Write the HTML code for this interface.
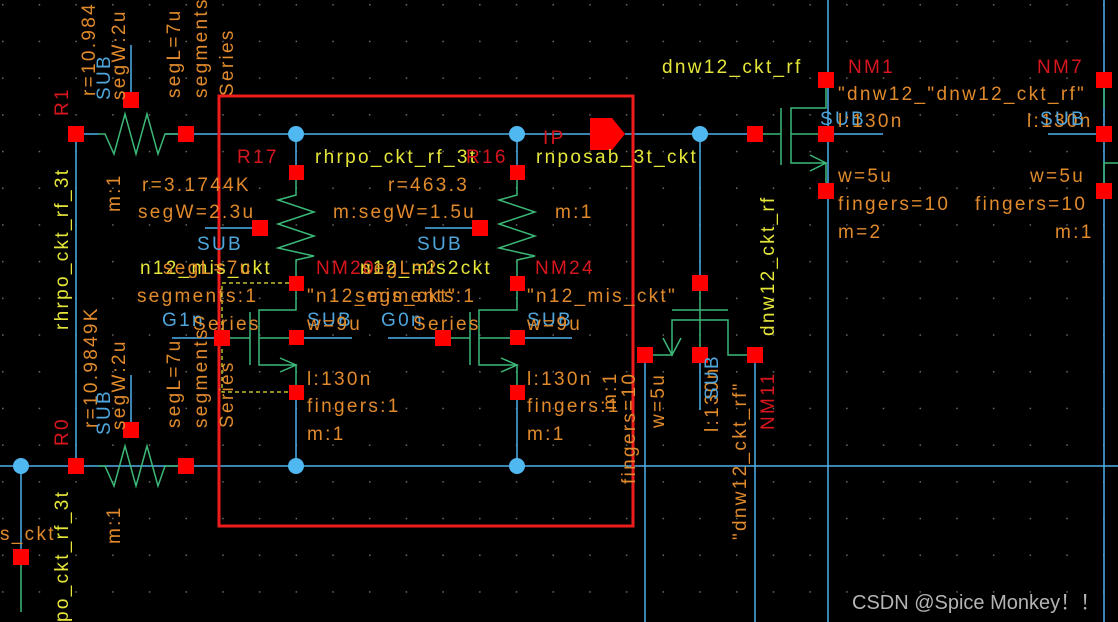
<!DOCTYPE html>
<html><head><meta charset="utf-8"><style>
html,body{margin:0;padding:0;background:#000;width:1118px;height:622px;overflow:hidden}
svg{display:block;overflow:hidden}
text{font-family:"Liberation Sans",sans-serif;font-size:19px;letter-spacing:2.3px}
.y{fill:#e6e63a}.o{fill:#e08a2c}.r{fill:#d8161e}.b{fill:#4fa6dd}
</style></head><body>
<svg width="1118" height="622" xmlns="http://www.w3.org/2000/svg">
<defs><pattern id="g" width="36.7" height="36.7" patternUnits="userSpaceOnUse" x="2" y="4"><rect width="1.5" height="1.5" fill="#6a6a6a"/></pattern></defs>
<rect width="1118" height="622" fill="#000"/>
<rect width="1118" height="622" fill="url(#g)"/>

<g stroke="#4fb0ec" stroke-width="1.5" fill="none">
<line x1="98" y1="134" x2="76" y2="134"/><line x1="165" y1="134" x2="590" y2="134"/>
<line x1="625" y1="134" x2="755" y2="134"/>
<line x1="0" y1="466" x2="1118" y2="466"/>
<line x1="76" y1="134" x2="76" y2="466"/>
<line x1="131" y1="100" x2="131" y2="45"/><line x1="131" y1="430" x2="131" y2="375"/>
<line x1="21" y1="466" x2="21" y2="555"/>
<line x1="296" y1="134" x2="296" y2="172"/><line x1="296" y1="392" x2="296" y2="466"/>
<line x1="517" y1="134" x2="517" y2="172"/><line x1="517" y1="392" x2="517" y2="466"/>
<line x1="296" y1="338" x2="352" y2="338"/><line x1="517" y1="338" x2="572" y2="338"/>
<line x1="388" y1="338" x2="442" y2="338"/>
<line x1="205" y1="228" x2="255" y2="228"/><line x1="425" y1="228" x2="475" y2="228"/>
<line x1="700" y1="134" x2="700" y2="283"/><line x1="700" y1="355" x2="700" y2="410"/>
<line x1="645" y1="355" x2="645" y2="622"/><line x1="755" y1="355" x2="755" y2="622"/>
<line x1="828" y1="0" x2="828" y2="622"/><line x1="1104" y1="0" x2="1104" y2="622"/>
<line x1="826" y1="134" x2="883" y2="134"/><line x1="1048" y1="134" x2="1104" y2="134"/>
<line x1="172" y1="338" x2="222" y2="338"/>
</g>

<g stroke="#3cb878" stroke-width="1.5" fill="none">
<polyline points="98,134 105,134 114,154 125,114 136,154 147,114 158,154 165,134 186,134"/>
<polyline points="98,466 105,466 114,486 125,446 136,486 147,446 158,486 165,466 186,466"/>
<polyline points="296,172 296,195 278,200 314,212 278,224 314,236 278,248 314,256 296,260 296,283"/>
<polyline points="517,172 517,195 499,200 535,212 499,224 535,236 499,248 535,256 517,260 517,283"/>
<line x1="222" y1="338" x2="250" y2="338"/><line x1="250" y1="312" x2="250" y2="365"/>
<polyline points="296,283 296,310 259,310 259,365 296,365 296,392"/><line x1="259" y1="338" x2="296" y2="338"/>
<polyline points="280,358 296,365 280,372"/>
<line x1="442" y1="338" x2="470" y2="338"/><line x1="470" y1="312" x2="470" y2="365"/>
<polyline points="517,283 517,310 479,310 479,365 517,365 517,392"/><line x1="479" y1="338" x2="517" y2="338"/>
<polyline points="501,358 517,365 501,372"/>
<line x1="755" y1="134" x2="781" y2="134"/><line x1="781" y1="108" x2="781" y2="165"/>
<polyline points="826,80 826,108 791,108 791,163 826,163 826,190"/><line x1="791" y1="134" x2="826" y2="134"/>
<polyline points="810,155 826,163 810,171"/>
<polyline points="1104,80 1104,108"/><polyline points="1118,163 1104,163 1104,190"/>
<line x1="700" y1="290" x2="700" y2="355"/>
<line x1="672" y1="310" x2="728" y2="310"/>
<polyline points="645,355 672,355 672,320 728,320 728,355 755,355"/>
<polyline points="663,338 672,355 681,338"/>
<line x1="21" y1="555" x2="21" y2="612"/>
</g>
<g stroke="#e6e63a" stroke-width="1.2" stroke-dasharray="4,3" fill="none">
<polyline points="296,283 222,283 222,392 296,392"/>
</g>

<rect x="219" y="96" width="414" height="430" fill="none" stroke="#ee1c1c" stroke-width="3"/>
<polygon points="590,118 612,118 625,134 612,150 590,150" fill="#ff0000"/>

<g fill="#4fb8f0">
<circle cx="296" cy="134" r="8"/><circle cx="517" cy="134" r="8"/><circle cx="700" cy="134" r="8"/>
<circle cx="296" cy="466" r="8"/><circle cx="517" cy="466" r="8"/><circle cx="21" cy="466" r="8"/>
</g>
<g fill="#ff0000">
<rect x="68" y="126" width="16" height="16"/><rect x="178" y="126" width="16" height="16"/><rect x="123" y="92" width="16" height="16"/>
<rect x="68" y="458" width="16" height="16"/><rect x="178" y="458" width="16" height="16"/><rect x="123" y="422" width="16" height="16"/>
<rect x="13" y="549" width="16" height="16"/>
<rect x="289" y="165" width="15" height="15"/><rect x="289" y="276" width="15" height="15"/><rect x="289" y="330" width="15" height="15"/><rect x="289" y="385" width="15" height="15"/>
<rect x="510" y="165" width="15" height="15"/><rect x="510" y="276" width="15" height="15"/><rect x="510" y="330" width="15" height="15"/><rect x="510" y="385" width="15" height="15"/>
<rect x="252" y="220" width="16" height="16"/><rect x="472" y="220" width="16" height="16"/>
<rect x="214" y="330" width="16" height="16"/><rect x="435" y="330" width="16" height="16"/>
<rect x="747" y="126" width="16" height="16"/>
<rect x="818" y="72" width="16" height="16"/><rect x="818" y="126" width="16" height="16"/><rect x="818" y="183" width="16" height="16"/>
<rect x="1096" y="72" width="16" height="16"/><rect x="1096" y="126" width="16" height="16"/><rect x="1096" y="183" width="16" height="16"/>
<rect x="692" y="275" width="16" height="16"/>
<rect x="637" y="347" width="16" height="16"/><rect x="692" y="347" width="16" height="16"/><rect x="747" y="347" width="16" height="16"/>
</g>

<text x="662" y="73" class="y">dnw12_ckt_rf</text>
<text x="848" y="73" class="r">NM1</text><text x="1037" y="73" class="r">NM7</text>
<text x="838" y="100" class="o">"dnw12_"dnw12_ckt_rf"</text>
<text x="820" y="125" class="b">SUB</text><text x="838" y="127" class="o">l:130n</text>
<text x="1027" y="127" class="o">l:130n</text><text x="1040" y="125" class="b">SUB</text>
<text x="838" y="182" class="o">w=5u</text><text x="1030" y="182" class="o">w=5u</text>
<text x="838" y="210" class="o">fingers=10</text><text x="975" y="210" class="o">fingers=10</text>
<text x="838" y="238" class="o">m=2</text><text x="1055" y="238" class="o">m:1</text>

<text x="237" y="163" class="r">R17</text>
<text x="315" y="163" class="y">rhrpo_ckt_rf_3t</text><text x="466" y="163" class="r">R16</text>
<text x="543" y="144" class="r">IP</text>
<text x="536" y="163" class="y">rnposab_3t_ckt</text>
<text x="142" y="191" class="o">r=3.1744K</text><text x="138" y="218" class="o">segW=2.3u</text>
<text x="197" y="250" class="b">SUB</text>
<text x="388" y="191" class="o">r=463.3</text><text x="333" y="218" class="o">m:segW=1.5u</text>
<text x="417" y="250" class="b">SUB</text><text x="555" y="218" class="o">m:1</text>
<text x="140" y="274" class="y">n12_mis_ckt</text><text x="163" y="274" class="o">segL=7u</text>
<text x="316" y="274" class="r">NM20</text><text x="360" y="274" class="y">n12_mis2ckt</text><text x="362" y="274" class="o">segL=2</text>
<text x="535" y="274" class="r">NM24</text>
<text x="137" y="302" class="o">segments:1</text>
<text x="307" y="302" class="o">"n12_mis_ckt"</text><text x="355" y="302" class="o">segments:1</text>
<text x="527" y="302" class="o">"n12_mis_ckt"</text>
<text x="162" y="326" class="b">G1n</text><text x="193" y="330" class="o">Series</text>
<text x="307" y="326" class="b">SUB</text><text x="307" y="330" class="o">w=9u</text>
<text x="381" y="326" class="b">G0n</text><text x="413" y="330" class="o">Series</text>
<text x="527" y="326" class="b">SUB</text><text x="527" y="330" class="o">w=9u</text>
<text x="307" y="385" class="o">l:130n</text><text x="527" y="385" class="o">l:130n</text>
<text x="307" y="412" class="o">fingers:1</text><text x="527" y="412" class="o">fingers:1</text>
<text x="307" y="440" class="o">m:1</text><text x="527" y="440" class="o">m:1</text>
<text x="0" y="540" class="o">s_ckt</text>

<text transform="translate(68,116) rotate(-90)" class="r">R1</text>
<text transform="translate(95,96) rotate(-90)" class="o">r=10.984</text>
<text transform="translate(110,100) rotate(-90)" class="b">SUB</text>
<text transform="translate(125,100) rotate(-90)" class="o">segW:2u</text>
<text transform="translate(180,98) rotate(-90)" class="o">segL=7u</text>
<text transform="translate(207,98) rotate(-90)" class="o">segments</text>
<text transform="translate(233,96) rotate(-90)" class="o">Series</text>
<text transform="translate(68,330) rotate(-90)" class="y">rhrpo_ckt_rf_3t</text>
<text transform="translate(120,212) rotate(-90)" class="o">m:1</text>
<text transform="translate(68,446) rotate(-90)" class="r">R0</text>
<text transform="translate(97,428) rotate(-90)" class="o">r=10.9849K</text>
<text transform="translate(110,435) rotate(-90)" class="b">SUB</text>
<text transform="translate(125,430) rotate(-90)" class="o">segW:2u</text>
<text transform="translate(180,428) rotate(-90)" class="o">segL=7u</text>
<text transform="translate(207,428) rotate(-90)" class="o">segments</text>
<text transform="translate(233,428) rotate(-90)" class="o">Series</text>
<text transform="translate(68,622) rotate(-90)" class="y">po_ckt_rf_3t</text>
<text transform="translate(120,544) rotate(-90)" class="o">m:1</text>
<text transform="translate(635,484) rotate(-90)" class="o">fingers=10</text>
<text transform="translate(616,410) rotate(-90)" class="o">m:1</text>
<text transform="translate(664,428) rotate(-90)" class="o">w=5u</text>
<text transform="translate(718,432) rotate(-90)" class="o">l:130n</text>
<text transform="translate(718,400) rotate(-90)" class="b">SUB</text>
<text transform="translate(746,540) rotate(-90)" class="o">"dnw12_ckt_rf"</text>
<text transform="translate(774,430) rotate(-90)" class="r">NM11</text>
<text transform="translate(774,336) rotate(-90)" class="y">dnw12_ckt_rf</text>

<text x="852" y="609" style="font-size:20px;letter-spacing:0;fill:#b4b4b4">CSDN @Spice Monkey！！</text>
</svg>
</body></html>
